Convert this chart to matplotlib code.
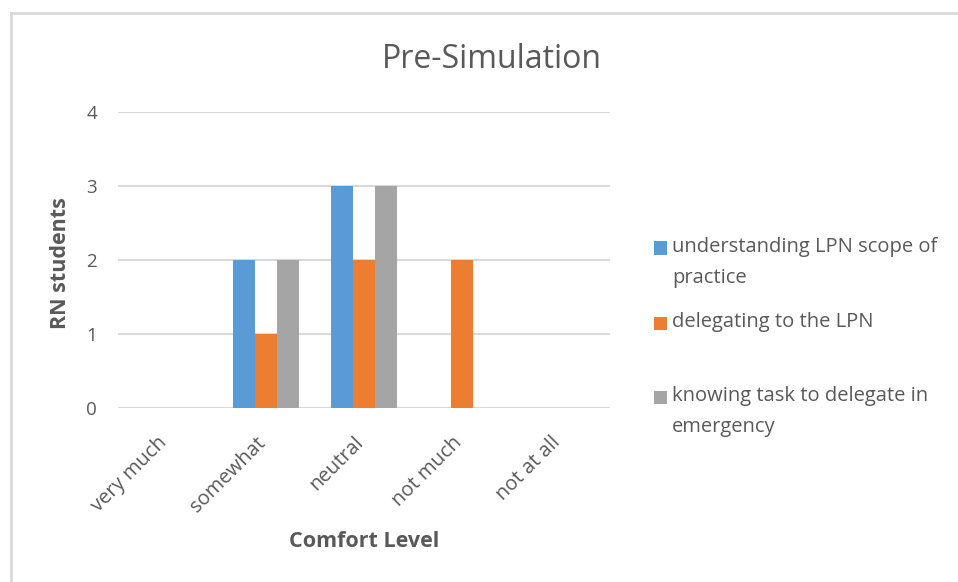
import matplotlib
matplotlib.use("Agg")
import matplotlib.pyplot as plt
import matplotlib.transforms as mtransforms
import numpy as np
from matplotlib.lines import Line2D
from matplotlib.patches import Rectangle

categories = ["very much", "somewhat", "neutral", "not much", "not at all"]
series_names = ["understanding LPN scope of\npractice",
                "delegating to the LPN",
                "knowing task to delegate in\nemergency"]
understanding = [0, 2, 3, 0, 0]
delegating = [0, 1, 2, 2, 0]
knowing = [0, 2, 3, 0, 0]
colors = ["#5B9BD5", "#ED7D31", "#A5A5A5"]
yticks = [0, 1, 2, 3, 4]

plt.rcParams['font.family'] = ['Open Sans', 'DejaVu Sans']
txt = "#595959"

W, H = 958, 582
fig = plt.figure(figsize=(W/100, H/100), dpi=100)
ax = fig.add_axes([118/W, 1-408/H, (610-118)/W, (408-112)/H])

x = np.arange(len(categories))
w = 0.223
for i, (vals, name, c) in enumerate(zip([understanding, delegating, knowing], series_names, colors)):
    ax.bar(x + (i-1)*w, vals, width=w, color=c, label=name, zorder=3)

ax.set_xlim(-0.5, len(categories)-0.5)
ax.set_ylim(0, 4)
ax.set_yticks(yticks)
ax.set_yticklabels([str(t) for t in yticks], fontsize=13.5, color=txt)
ax.set_xticks(x)
ax.set_xticklabels(categories, rotation=45, ha="right", rotation_mode="anchor",
                   fontsize=14.5, color=txt)
ax.tick_params(axis='both', length=0)
ax.tick_params(axis='y', pad=15)
ax.tick_params(axis='x', pad=12)
shift = mtransforms.ScaledTranslation(-10/100, -8/100, fig.dpi_scale_trans)
for lbl in ax.get_xticklabels():
    lbl.set_transform(lbl.get_transform() + shift)
for s in ax.spines.values():
    s.set_visible(False)
ax.grid(axis='y', color="#D9D9D9", linewidth=1.5, zorder=0)
ax.set_axisbelow(True)

ax.set_ylabel("RN students", fontsize=15.5, fontweight='bold', color=txt)
ax.yaxis.set_label_coords((71-118)/492, 0.49)
ax.set_xlabel("Comfort Level", fontsize=15.5, fontweight='bold', color=txt)
ax.xaxis.set_label_coords(0.5, (408-531)/296)

fig.text(492/W, 1-59/H, "Pre-Simulation", fontsize=23, color=txt, ha='center', va='center')

# legend (manual layout to mimic the spreadsheet legend)
leg_y = [248, 323, 397]
for yc, label, c in zip(leg_y, series_names, colors):
    fig.add_artist(Rectangle((654/W, 1-(yc+6.5)/H), 13/W, 13/H, transform=fig.transFigure,
                             facecolor=c, edgecolor='none'))
    fig.text(672/W, 1-(yc-11)/H, label, fontsize=14.5, color=txt, ha='left', va='top',
             linespacing=1.75)

# border lines (left and top)
fig.add_artist(Line2D([11/W, 11/W], [0, 1-13/H], transform=fig.transFigure, color="#D9D9D9", lw=2))
fig.add_artist(Line2D([11/W, 1], [1-13/H, 1-13/H], transform=fig.transFigure, color="#D9D9D9", lw=2))

fig.savefig("out.png", dpi=100)
